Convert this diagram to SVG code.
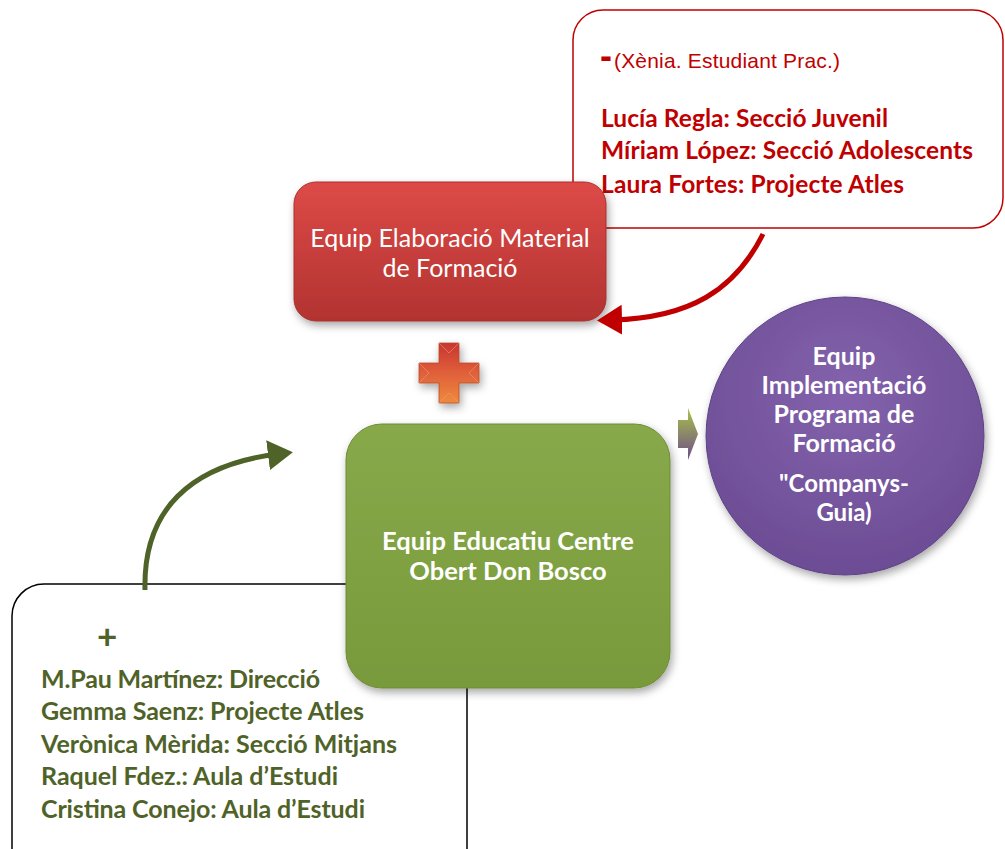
<svg xmlns="http://www.w3.org/2000/svg" width="1005" height="849" viewBox="0 0 1005 849">
<style>
.nodeTxt{font-family:Lato,"Liberation Sans",sans-serif;fill:#fff;text-anchor:middle}
.bold{font-weight:bold}
.red{fill:#c00000;font-family:Lato,"Liberation Sans",sans-serif;font-weight:bold;font-size:24.5px}
.green{fill:#4f6228;font-family:Lato,"Liberation Sans",sans-serif;font-weight:bold;font-size:25px}
</style>
<defs>
<linearGradient id="gRed" x1="0" y1="0" x2="0" y2="1"><stop offset="0" stop-color="#dd4a47"/><stop offset="1" stop-color="#b23331"/></linearGradient>
<linearGradient id="gGreen" x1="0" y1="0" x2="0" y2="1"><stop offset="0" stop-color="#87a94a"/><stop offset="1" stop-color="#789a3b"/></linearGradient>
<radialGradient id="gPurple" cx="0.5" cy="0.35" r="0.7"><stop offset="0" stop-color="#8462ad"/><stop offset="1" stop-color="#6a4b92"/></radialGradient>
<linearGradient id="gPlus" x1="0" y1="0" x2="0" y2="1"><stop offset="0" stop-color="#c8352f"/><stop offset="0.5" stop-color="#e0603a"/><stop offset="1" stop-color="#ee8a3c"/></linearGradient>
<linearGradient id="gChev" x1="0" y1="0" x2="0" y2="1"><stop offset="0" stop-color="#a8c24a"/><stop offset="1" stop-color="#6e4c8a"/></linearGradient>
<filter id="sh" x="-10%" y="-10%" width="130%" height="130%"><feDropShadow dx="2" dy="4" stdDeviation="4" flood-color="#000" flood-opacity="0.35"/></filter>
<marker id="mRed" markerWidth="6" markerHeight="6" refX="2" refY="3" orient="auto" markerUnits="strokeWidth"><path d="M0,0 L5,3 L0,6 Z" fill="#c00000"/></marker>
<marker id="mGreen" markerWidth="6" markerHeight="6" refX="2" refY="3" orient="auto" markerUnits="strokeWidth"><path d="M0,0 L5,3 L0,6 Z" fill="#4f6228"/></marker>
</defs>
<rect width="1005" height="849" fill="#fff"/>

<g id="callout-red">
<rect x="573" y="10" width="430" height="218" rx="30" ry="30" fill="#fff" stroke="#c00000" stroke-width="1.5"/>
<text x="600" y="68" style="fill:#c00000;font-family:'Liberation Sans',sans-serif;font-weight:bold;font-size:36px">-</text>
<text x="614" y="68" style="fill:#c00000;font-family:'Liberation Sans',sans-serif;font-size:21px" textLength="226">(Xènia. Estudiant Prac.)</text>
<text x="601" y="127" class="red" textLength="287">Lucía Regla: Secció Juvenil</text>
<text x="601" y="159" class="red" textLength="372">Míriam López: Secció Adolescents</text>
<text x="601" y="193" class="red" textLength="303">Laura Fortes: Projecte Atles</text>
</g>

<g id="callout-black">
<rect x="12" y="584" width="455" height="300" rx="32" ry="32" fill="#fff" stroke="#000" stroke-width="1.5"/>
<text x="97" y="649" class="green" style="font-size:35px">+</text>
<text x="41" y="688" class="green" textLength="279">M.Pau Martínez: Direcció</text>
<text x="41" y="720" class="green" textLength="323">Gemma Saenz: Projecte Atles</text>
<text x="41" y="753" class="green" textLength="356">Verònica Mèrida: Secció Mitjans</text>
<text x="41" y="785" class="green" textLength="297">Raquel Fdez.: Aula d’Estudi</text>
<text x="41" y="818" class="green" textLength="324">Cristina Conejo: Aula d’Estudi</text>
</g>

<g id="node-elaboracio">
<rect x="294" y="182" width="312" height="139" rx="22" ry="22" fill="url(#gRed)" stroke="#a8302e" stroke-width="1" filter="url(#sh)"/>
<text x="450" y="247" class="nodeTxt" font-size="25">Equip Elaboració Material</text>
<text x="450" y="277" class="nodeTxt" font-size="25">de Formació</text>
</g>

<g id="plus">
<path d="M439,343 H459 V363 H479 V383 H459 V403 H439 V383 H419 V363 H439 Z" fill="url(#gPlus)" stroke="#b84a2a" stroke-width="0.8" filter="url(#sh)"/>
<path d="M439,343 L449,353 L459,343 M419,363 L429,373 L419,383 M479,363 L469,373 L479,383 M439,403 L449,393 L459,403" fill="none" stroke="#f09a80" stroke-width="0.8" opacity="0.7"/>
</g>

<g id="node-educatiu">
<rect x="346" y="424" width="324" height="264" rx="36" ry="36" fill="url(#gGreen)" stroke="#6e8c36" stroke-width="1" filter="url(#sh)"/>
<text x="508" y="550" class="nodeTxt bold" font-size="25.5">Equip Educatiu Centre</text>
<text x="508" y="580" class="nodeTxt bold" font-size="25.5">Obert Don Bosco</text>
</g>

<g id="node-implementacio">
<circle cx="845" cy="436" r="139" fill="url(#gPurple)" stroke="#5e4286" stroke-width="1" filter="url(#sh)"/>
<text x="844" y="365" class="nodeTxt bold" font-size="25">Equip</text>
<text x="844" y="394" class="nodeTxt bold" font-size="25">Implementació</text>
<text x="844" y="423" class="nodeTxt bold" font-size="25">Programa de</text>
<text x="844" y="452" class="nodeTxt bold" font-size="25">Formació</text>
<text x="844" y="492" class="nodeTxt bold" font-size="24">"Companys-</text>
<text x="844" y="521" class="nodeTxt bold" font-size="24">Guia)</text>
</g>

<g id="connectors">
<path d="M763,234 C735,290 690,318 612,320" fill="none" stroke="#c00000" stroke-width="5" marker-end="url(#mRed)"/>
<path d="M145,590 C143,510 190,465 278,454" fill="none" stroke="#4f6228" stroke-width="5" marker-end="url(#mGreen)"/>
<path d="M678,420 H688 V408 L698,434 L688,460 V448 H678 Z" fill="url(#gChev)"/>
</g>
</svg>
